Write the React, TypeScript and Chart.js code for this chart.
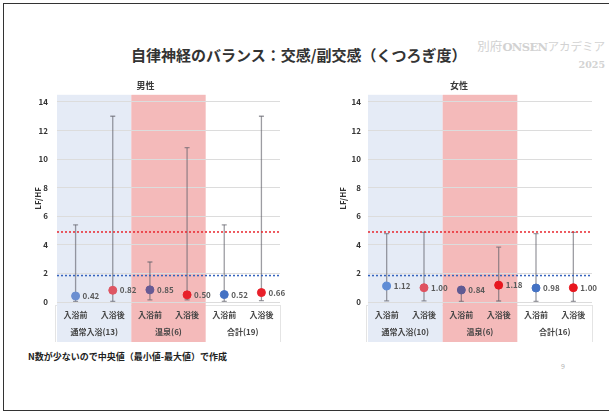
import React, { useEffect, useRef } from "react";
import { Chart, registerables } from "chart.js";
Chart.register(...registerables);

const FONT = "'Noto Sans CJK JP', 'Noto Sans', sans-serif";

// ---- data ----
const stageLabels = ["入浴前", "入浴後", "入浴前", "入浴後", "入浴前", "入浴後"];
const yTickValues = [0, 2, 4, 6, 8, 10, 12, 14];

const maleGroups = ["通常入浴(13)", "温泉(6)", "合計(19)"];
const maleMedian = [0.42, 0.82, 0.85, 0.5, 0.52, 0.66];
const maleMin = [0.05, 0.05, 0.15, 0.15, 0.05, 0.1];
const maleMax = [5.4, 13.0, 2.8, 10.8, 5.4, 13.0];

const femaleGroups = ["通常入浴(10)", "温泉(6)", "合計(16)"];
const femaleMedian = [1.12, 1.0, 0.84, 1.18, 0.98, 1.0];
const femaleMin = [0.08, 0.08, 0.05, 0.07, 0.05, 0.05];
const femaleMax = [4.78, 4.87, 1.06, 3.84, 4.78, 4.87];

const sympatheticLine = 4.9; // red dotted
const parasympatheticLine = 1.85; // blue dotted

const maleColors = ["#6b8fd1", "#de5663", "#675a94", "#e8202a", "#4472c4", "#e8202a"];
const femaleColors = ["#5f8dd6", "#df5260", "#5f5a93", "#e8161e", "#4472c4", "#e8161e"];

// ---- styles ----
const BLUE_BAND = "#e5ebf6";
const PINK_BAND = "#f4baba";
const WHISKER = "rgba(95,95,105,0.62)";
const GRID = "#dcdcdc";
const TEXT = "#3a3a3a";

const bandPlugin = {
  id: "bands",
  beforeDraw(chart: any) {
    const { ctx, chartArea, scales } = chart;
    const x = scales.x;
    const x2 = scales.x2;
    const top = chartArea.top;
    const bottom = x2.bottom;
    const bands: [number, number, string][] = [
      [-0.5, 1.5, BLUE_BAND],
      [1.5, 3.5, PINK_BAND],
    ];
    ctx.save();
    const l = x.getPixelForValue(-0.5);
    const r = x.getPixelForValue(5.5);
    ctx.strokeStyle = "#e4e4e4";
    ctx.lineWidth = 1;
    ctx.strokeRect(l - 1.5, chartArea.bottom + 3.5, r - l + 2, bottom - chartArea.bottom - 3);
    for (const [s, e, c] of bands) {
      const a = x.getPixelForValue(s);
      const b = x.getPixelForValue(e);
      ctx.fillStyle = c;
      ctx.fillRect(a, top, b - a, bottom - top);
    }
    ctx.restore();
  },
};

const valueLabelPlugin = {
  id: "valueLabels",
  afterDatasetsDraw(chart: any) {
    const { ctx } = chart;
    const meta = chart.getDatasetMeta(0);
    const ds = chart.data.datasets[0];
    ctx.save();
    ctx.font = `bold 8px ${FONT}`;
    ctx.fillStyle = "#5a5a5a";
    ctx.textAlign = "left";
    ctx.textBaseline = "middle";
    meta.data.forEach((el: any, i: number) => {
      ctx.fillText(ds.data[i].y.toFixed(2), el.x + 7, el.y);
    });
    ctx.restore();
  },
};

type PanelProps = {
  title: string;
  groups: string[];
  median: number[];
  min: number[];
  max: number[];
  colors: string[];
  left: number;
  width: number;
  yAxisWidth: number;
  rightPad: number;
  titlePad: number;
  tickPad: number;
};

function Panel(p: PanelProps) {
  const ref = useRef<HTMLCanvasElement>(null);
  useEffect(() => {
    if (!ref.current) return;
    const whiskers = p.median.map((_, i) => ({
      type: "line",
      data: [
        { x: i, y: p.min[i] },
        { x: i, y: p.max[i] },
      ],
      borderColor: WHISKER,
      borderWidth: 1.3,
      pointStyle: "line",
      pointRadius: 2.5,
      pointBorderColor: WHISKER,
      pointBorderWidth: 1.3,
      pointHoverRadius: 0,
      order: 2,
    }));
    const refLine = (v: number, color: string) => ({
      type: "line",
      data: [
        { x: -0.5, y: v },
        { x: 5.5, y: v },
      ],
      borderColor: color,
      borderWidth: 1.5,
      borderDash: [2, 2],
      pointRadius: 0,
      order: 1,
    });
    const chart = new Chart(ref.current, {
      type: "scatter",
      data: {
        datasets: [
          {
            type: "scatter",
            data: p.median.map((v, i) => ({ x: i, y: v })),
            backgroundColor: p.colors,
            borderColor: p.colors,
            pointRadius: 4,
            order: 0,
          } as any,
          refLine(sympatheticLine, "#e8262e"),
          refLine(parasympatheticLine, "#3563bd"),
          ...whiskers,
        ],
      },
      options: {
        animation: false,
        responsive: false,
        events: [],
        layout: { padding: { left: 0, right: p.rightPad, top: 0, bottom: 0 } },
        plugins: {
          legend: { display: false },
          tooltip: { enabled: false },
          title: {
            display: true,
            text: p.title,
            color: TEXT,
            font: { family: FONT, size: 9, weight: "bold" },
            padding: { top: 4, bottom: 4 },
          },
        },
        scales: {
          x: {
            type: "linear",
            position: "bottom",
            weight: 0,
            min: -0.5,
            max: 5.5,
            afterBuildTicks: (ax: any) => {
              ax.ticks = stageLabels.map((_, i) => ({ value: i }));
            },
            afterFit: (ax: any) => {
              ax.height = 19;
            },
            ticks: {
              autoSkip: false,
              maxRotation: 0,
              padding: 8,
              color: "#444",
              font: { family: FONT, size: 8, weight: "bold" },
              callback: (_v: any, i: number) => stageLabels[i],
            },
            grid: { display: false, drawTicks: false },
            border: { display: false },
          },
          x2: {
            type: "linear",
            position: "bottom",
            weight: 1,
            min: -0.5,
            max: 5.5,
            afterBuildTicks: (ax: any) => {
              ax.ticks = p.groups.map((_, i) => ({ value: i * 2 + 0.5 }));
            },
            afterFit: (ax: any) => {
              ax.height = 21;
            },
            ticks: {
              autoSkip: false,
              maxRotation: 0,
              padding: 6,
              color: "#444",
              font: { family: FONT, size: 8, weight: "bold" },
              callback: (_v: any, i: number) => p.groups[i],
            },
            grid: { display: false, drawTicks: false },
            border: { display: false },
          },
          y: {
            type: "linear",
            min: 0,
            max: 14.5,
            afterBuildTicks: (ax: any) => {
              ax.ticks = yTickValues.map((v) => ({ value: v }));
            },
            afterFit: (ax: any) => {
              ax.width = p.yAxisWidth;
            },
            ticks: {
              padding: p.tickPad,
              color: "#333",
              font: { family: FONT, size: 8, weight: "bold" },
              callback: (v: any) => String(v),
            },
            grid: { color: GRID, drawTicks: false, lineWidth: 1 },
            border: { display: false },
            title: {
              display: true,
              text: "LF/HF",
              color: "#333",
              font: { family: FONT, size: 8, weight: "bold" },
              padding: { top: p.titlePad, bottom: 0 },
            },
          },
        },
      } as any,
      plugins: [bandPlugin, valueLabelPlugin],
    } as any);
    return () => chart.destroy();
  }, []);
  return (
    <canvas
      ref={ref}
      width={p.width}
      height={266}
      style={{ position: "absolute", left: p.left, top: 76, width: p.width, height: 266 }}
    />
  );
}

export default function App() {
  return (
    <div
      style={{
        position: "absolute",
        left: 0,
        top: 0,
        width: 609,
        height: 412,
        background: "#fff",
        overflow: "hidden",
        fontFamily: FONT,
      }}
    >
      <div
        style={{
          position: "absolute",
          left: 3,
          top: 3,
          width: 640,
          height: 408,
          boxSizing: "border-box",
          borderLeft: "1.5px solid #333",
          borderTop: "1.5px solid #333",
          borderBottom: "1.5px solid #333",
        }}
      />
      <div
        style={{
          position: "absolute",
          left: 131,
          top: 46,
          fontSize: 15,
          lineHeight: "18px",
          fontWeight: 700,
          color: "#333",
          whiteSpace: "nowrap",
        }}
      >
        自律神経のバランス：交感/副交感（くつろぎ度）
      </div>
      <div
        style={{
          position: "absolute",
          right: 4,
          top: 38,
          fontSize: 12.5,
          lineHeight: "15px",
          color: "#d2d2d2",
          whiteSpace: "nowrap",
          textAlign: "right",
        }}
      >
        <span>別府</span>
        <span style={{ fontFamily: "'DejaVu Serif', serif", fontWeight: 700, fontSize: 11.5, letterSpacing: -0.6 }}>
          ONSEN
        </span>
        <span style={{ fontSize: 11.5 }}>アカデミア</span>
        <div
          style={{
            fontFamily: "'DejaVu Serif', serif",
            fontWeight: 700,
            fontSize: 9.5,
            lineHeight: "12px",
            marginTop: 4,
          }}
        >
          2025
        </div>
      </div>
      <Panel
        title="男性"
        groups={maleGroups}
        median={maleMedian}
        min={maleMin}
        max={maleMax}
        colors={maleColors}
        left={11}
        width={282}
        yAxisWidth={46}
        rightPad={13}
        titlePad={22}
        tickPad={9}
      />
      <Panel
        title="女性"
        groups={femaleGroups}
        median={femaleMedian}
        min={femaleMin}
        max={femaleMax}
        colors={femaleColors}
        left={326}
        width={278}
        yAxisWidth={42}
        rightPad={12}
        titlePad={12}
        tickPad={7}
      />
      <div
        style={{
          position: "absolute",
          left: 28,
          top: 351,
          fontSize: 9,
          lineHeight: "12px",
          fontWeight: 700,
          color: "#222",
          whiteSpace: "nowrap",
        }}
      >
        N数が少ないので中央値（最小値-最大値）で作成
      </div>
      <div
        style={{
          position: "absolute",
          left: 561,
          top: 361,
          fontSize: 7,
          lineHeight: "10px",
          color: "#b0b0b0",
        }}
      >
        9
      </div>
    </div>
  );
}
